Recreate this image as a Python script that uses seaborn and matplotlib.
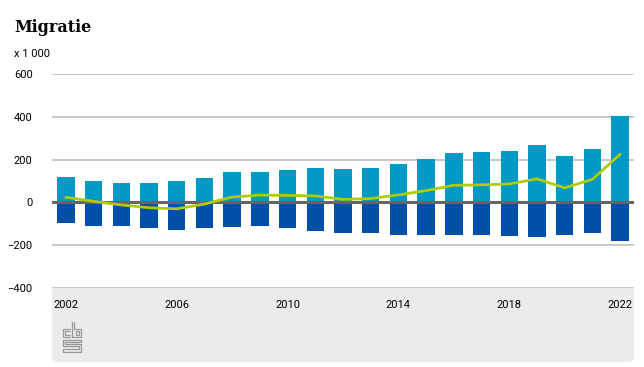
import matplotlib.pyplot as plt
import seaborn as sns
import pandas as pd
from matplotlib.patches import FancyBboxPatch, Rectangle

# Data (x 1 000)
years = list(range(2002, 2023))
immigratie = [118, 100, 90, 90, 100, 114, 142, 142, 152, 162, 157,
              160, 180, 202, 230, 235, 239, 267, 216, 249, 402]
emigratie = [-98, -108, -112, -121, -130, -121, -116, -112, -121, -135, -144,
             -145, -150, -150, -154, -154, -159, -164, -154, -145, -182]
saldo = [24, 5, -12, -25, -30, -8, 25, 34, 33, 30, 14,
         18, 35, 55, 80, 82, 86, 110, 68, 108, 225]
xticks = [2002, 2006, 2010, 2014, 2018, 2022]
yticks = [-400, -200, 0, 200, 400, 600]

df = pd.DataFrame({"jaar": years, "immigratie": immigratie,
                   "emigratie": emigratie, "saldo": saldo})

sns.set_theme(style="white")
plt.rcParams["font.family"] = ["Roboto", "DejaVu Sans"]
plt.rcParams["text.color"] = "black"

W, H = 644, 367
fig = plt.figure(figsize=(W / 100, H / 100), dpi=100)
ax = fig.add_axes([52 / W, 1 - 288 / H, (634 - 52) / W, (288 - 74) / H])


def px(x, y):
    # pixel position (from top-left) -> figure fraction
    return x / W, 1 - y / H


# grey footer panel, rounded at the bottom only
fig.patches.append(FancyBboxPatch(px(52, 362), 582 / W, 74 / H,
                                  boxstyle="round,pad=0,rounding_size=0.012",
                                  transform=fig.transFigure, facecolor="#ebebeb",
                                  edgecolor="none", zorder=-2))
fig.patches.append(Rectangle(px(52, 330), 582 / W, 42 / H,
                             transform=fig.transFigure, facecolor="#ebebeb",
                             edgecolor="none", zorder=-2))

# rough cbs logo
logo_paths = [
    [(70, 329), (63, 329), (63, 337), (70, 337)],
    [(70, 331), (65, 331), (65, 335), (70, 335)],
    [(72, 322), (72, 337), (81, 337), (81, 329), (74, 329), (74, 322)],
    [(76, 331), (79, 331), (79, 335), (76, 335), (76, 331)],
    [(81, 340), (63, 340), (63, 346), (79, 346), (79, 349), (63, 349), (63, 352), (81, 352),
     (81, 344), (65, 344), (65, 342), (81, 342), (81, 340)],
]
for path in logo_paths:
    xs, ys = zip(*[px(x, y) for x, y in path])
    fig.add_artist(plt.Line2D(xs, ys, transform=fig.transFigure,
                              color="#9a9a9a", lw=0.9, zorder=-1))

for y in yticks:
    if y != 0:
        ax.axhline(y, color="#bdbdbd", lw=1.2, zorder=0)

sns.barplot(data=df, x="jaar", y="immigratie", native_scale=True, width=0.63,
            color="#0099c6", saturation=1, linewidth=0, ax=ax, zorder=2)
sns.barplot(data=df, x="jaar", y="emigratie", native_scale=True, width=0.63,
            color="#0050aa", saturation=1, linewidth=0, ax=ax, zorder=2)
ax.axhline(0, color="#666666", lw=2.2, zorder=3)
sns.lineplot(data=df, x="jaar", y="saldo", color="#afcb05", lw=2, ax=ax, zorder=4)

ax.set_xlim(2001.5, 2022.5)
ax.set_ylim(-400, 600)
ax.set_xticks(xticks)
ax.set_xticklabels([str(t) for t in xticks])
ax.set_yticks(yticks)
ax.set_xlabel("")
ax.set_ylabel("")
ax.tick_params(axis="y", length=0, pad=14, labelsize=8, labelcolor="black")
ax.tick_params(axis="x", length=0, pad=9, labelsize=8, labelcolor="black")
for s in ax.spines.values():
    s.set_visible(False)
ax.set_facecolor("none")

fig.text(*px(14, 28), "Migratie", fontsize=11.5, fontweight="bold",
         family=["DejaVu Serif"], va="center", ha="left", color="black")
fig.text(*px(14, 54), "x 1 000", fontsize=8, va="center", ha="left", color="black")

fig.savefig("out.png", dpi=100)
